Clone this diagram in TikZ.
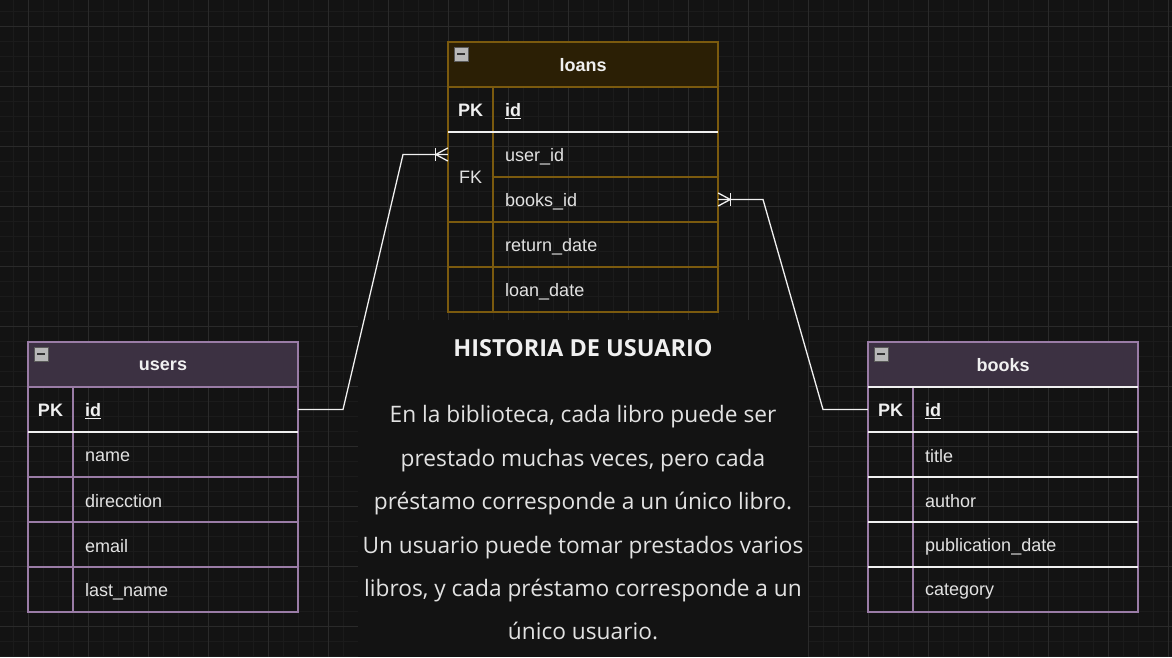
\documentclass[tikz,border=0pt]{standalone}
\usepackage{fontspec}
\setmainfont{Liberation Sans}
\newfontfamily\storyfont{Open Sans}
\usetikzlibrary{calc}
\definecolor{bgc}{HTML}{131313}
\definecolor{gridminor}{HTML}{1B1B1B}
\definecolor{gridmajor}{HTML}{2A2A2A}
\definecolor{loanhead}{HTML}{2B1F05}
\definecolor{loanline}{HTML}{7B5A0E}
\definecolor{purphead}{HTML}{3C3142}
\definecolor{purpline}{HTML}{9A7CA6}
\definecolor{txt}{HTML}{E2E2E2}
\definecolor{wline}{HTML}{F0F0F0}
\definecolor{iconfill}{HTML}{B8B8B8}
\tikzset{
  tabfont/.style={font=\fontsize{18}{22}\selectfont, text=txt, inner sep=0pt},
  headtxt/.style={tabfont, font=\fontsize{18}{22}\selectfont\bfseries, text=wline},
  fieldtxt/.style={tabfont, anchor=west},
  rowbox/.style={minimum width=270pt, minimum height=45pt, inner sep=0pt, draw=none},
  conn/.style={draw=wline, line width=1.3pt},
  sepw/.style={draw=wline, line width=2.2pt},
  icon/.style={fill=iconfill, draw=gray!70!black, line width=0.6pt},
}
\newcommand{\collapseicon}[2]{%
  \filldraw[icon] (#1,#2) rectangle ++(14,14);
  \draw[line width=2pt, black!80] (#1+3,#2+7) -- (#1+11,#2+7);}
\begin{document}
\begin{tikzpicture}[x=1pt,y=-1pt]
\useasboundingbox (0,0) rectangle (1172,657);
\fill[bgc] (0,0) rectangle (1172,657);
% grid
\foreach \x in {13,28,...,1172} \draw[gridminor, line width=1pt] (\x,0) -- (\x,657);
\foreach \y in {11,26,...,657} \draw[gridminor, line width=1pt] (0,\y) -- (1172,\y);
\foreach \x in {28,88,...,1172} \draw[gridmajor, line width=1pt] (\x,0) -- (\x,657);
\foreach \y in {26,86,...,657} \draw[gridmajor, line width=1pt] (0,\y) -- (1172,\y);

% ---------- loans ----------
\fill[loanhead] (448,42) rectangle (718,87);
\draw[loanline, line width=1.5pt] (448,42) rectangle (718,312);
\draw[loanline, line width=1.5pt] (448,87) -- (718,87);
\draw[loanline, line width=1.5pt] (493,87) -- (493,312);
\draw[loanline, line width=1.5pt] (493,177) -- (718,177);
\draw[loanline, line width=1.5pt] (448,222) -- (718,222);
\draw[loanline, line width=1.5pt] (448,267) -- (718,267);
\draw[sepw] (448,132) -- (718,132);
\collapseicon{454}{47}
\node[headtxt] (loans) at (583,65.5) {loans};
\node[rowbox] (loans-r1) at (583,109.5) {};
\node[rowbox] (loans-r2) at (583,154.5) {};
\node[rowbox] (loans-r3) at (583,199.5) {};
\node[headtxt] (loans-pk) at (470.5,110.5) {PK};
\node[fieldtxt, font=\fontsize{18}{22}\selectfont\bfseries, text=wline] (loans-id) at (505,111) {\underline{id}};
\node[tabfont] (loans-fk) at (470.5,177.5) {FK};
\node[fieldtxt] (loans-userid) at (505,156.5) {user\_id};
\node[fieldtxt] (loans-booksid) at (505,201.5) {books\_id};
\node[fieldtxt] (loans-return) at (505,246.5) {return\_date};
\node[fieldtxt] (loans-loan) at (505,291.5) {loan\_date};

% ---------- users ----------
\fill[purphead] (28,342) rectangle (298,387);
\draw[purpline, line width=1.5pt] (28,342) rectangle (298,612);
\draw[purpline, line width=1.5pt] (28,387) -- (298,387);
\draw[purpline, line width=1.5pt] (73,387) -- (73,612);
\foreach \y in {477,522,567} \draw[purpline, line width=1.5pt] (28,\y) -- (298,\y);
\draw[sepw] (28,432) -- (298,432);
\collapseicon{34}{347}
\node[headtxt] (users) at (163,365.5) {users};
\node[rowbox] (users-r1) at (163,409.5) {};
\node[headtxt] (users-pk) at (50.5,410.5) {PK};
\node[fieldtxt, font=\fontsize{18}{22}\selectfont\bfseries, text=wline] (users-id) at (85,411) {\underline{id}};
\node[fieldtxt] (users-name) at (85,456.5) {name};
\node[fieldtxt] (users-dir) at (85,501) {direcction};
\node[fieldtxt] (users-email) at (85,546) {email};
\node[fieldtxt] (users-last) at (85,591.5) {last\_name};

% ---------- books ----------
\fill[purphead] (868,342) rectangle (1138,387);
\draw[purpline, line width=1.5pt] (868,342) rectangle (1138,612);
\draw[purpline, line width=1.5pt] (913,387) -- (913,612);
\foreach \y in {387,432,477,522,567} \draw[sepw] (868,\y) -- (1138,\y);
\collapseicon{874}{347}
\node[headtxt] (books) at (1003,365.5) {books};
\node[rowbox] (books-r1) at (1003,409.5) {};
\node[headtxt] (books-pk) at (890.5,410.5) {PK};
\node[fieldtxt, font=\fontsize{18}{22}\selectfont\bfseries, text=wline] (books-id) at (925,411) {\underline{id}};
\node[fieldtxt] (books-title) at (925,456) {title};
\node[fieldtxt] (books-author) at (925,501) {author};
\node[fieldtxt] (books-pub) at (925,546.5) {publication\_date};
\node[fieldtxt] (books-cat) at (925,591.5) {category};

% ---------- story box ----------
\fill[bgc] (358,320) rectangle (808,657);
\node[text=wline, font=\storyfont\fontsize{23.5}{28}\selectfont\bfseries, inner sep=0pt] (story-title) at (583,348.5) {HISTORIA DE USUARIO};
\node[text=txt, font=\storyfont\fontsize{22.7}{43.4}\selectfont, align=center, inner sep=0pt, anchor=north] (story) at (583,405.5)
 {En la biblioteca, cada libro puede ser\\
  prestado muchas veces, pero cada\\
  préstamo corresponde a un único libro.\\
  Un usuario puede tomar prestados varios\\
  libros, y cada préstamo corresponde a un\\
  único usuario.};

% ---------- connectors ----------
\coordinate (c1) at (343,409.5);
\coordinate (c2) at (403,154.5);
\draw[conn] (users-r1.east) -- (c1) -- (c2) -- (loans-r2.west);
\draw[conn] ($(loans-r2.west)+(-12,-6.5)$) -- ($(loans-r2.west)+(-12,6.5)$);
\draw[conn] ($(loans-r2.west)+(0,-6.5)$) -- ($(loans-r2.west)+(-12,0)$) -- ($(loans-r2.west)+(0,6.5)$);

\coordinate (c3) at (763,199.5);
\coordinate (c4) at (823,409.5);
\draw[conn] (loans-r3.east) -- (c3) -- (c4) -- (books-r1.west);
\draw[conn] ($(loans-r3.east)+(12,-6.5)$) -- ($(loans-r3.east)+(12,6.5)$);
\draw[conn] ($(loans-r3.east)+(0,-6.5)$) -- ($(loans-r3.east)+(12,0)$) -- ($(loans-r3.east)+(0,6.5)$);
\end{tikzpicture}
\end{document}
